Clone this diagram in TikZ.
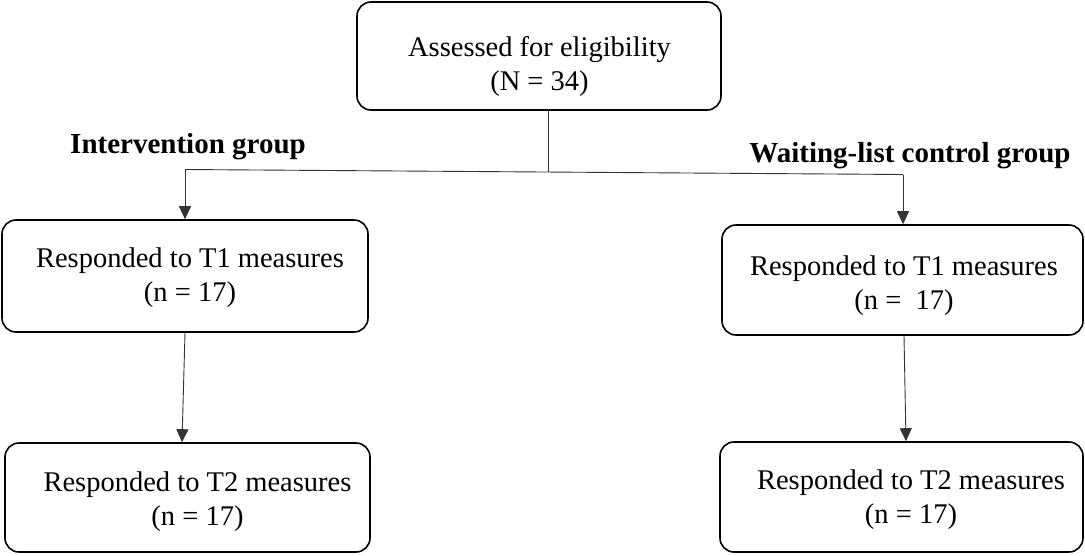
\documentclass[tikz,border=0pt]{standalone}
\usepackage{fontspec}
\setmainfont{Liberation Serif}
\usetikzlibrary{arrows.meta}
\begin{document}
\begin{tikzpicture}[x=1pt,y=-1pt,
  box/.style={draw=black, line width=1.6pt, rounded corners=14pt, inner sep=0pt},
  txt/.style={align=center, inner sep=0pt, font=\fontsize{28.5}{34}\selectfont},
  grp/.style={inner sep=0pt, anchor=base, font=\fontsize{29}{34}\selectfont\bfseries},
  link/.style={draw=black!80, line width=0.9pt},
  arr/.style={link, -{Triangle[length=13pt,width=12pt]}}]
  \useasboundingbox (0,0) rectangle (1085,555);

  % boxes
  \node[box, minimum width=364pt, minimum height=108pt] (top) at (539,56) {};
  \node[box, minimum width=366pt, minimum height=112pt] (t1l) at (185,276) {};
  \node[box, minimum width=365pt, minimum height=109pt] (t2l) at (187.5,497.5) {};
  \node[box, minimum width=361pt, minimum height=110pt] (t1r) at (902.5,280) {};
  \node[box, minimum width=363pt, minimum height=110pt] (t2r) at (901.5,497) {};

  % box texts
  \node[txt] (toptxt) at (539.5,66.5) {Assessed for eligibility\\(N = 34)};
  \node[txt] (t1ltxt) at (190,278) {Responded to T1 measures\\(n = 17)};
  \node[txt] (t2ltxt) at (197.5,501.5) {Responded to T2 measures\\(n = 17)};
  \node[txt] (t1rtxt) at (904,286) {Responded to T1 measures\\(n = \ 17)};
  \node[txt] (t2rtxt) at (911,499.5) {Responded to T2 measures\\(n = 17)};

  % group labels
  \node[grp] (lgrp) at (188,153) {Intervention group};
  \node[grp] (rgrp) at (910,162) {Waiting-list control group};

  % split into the two groups
  \coordinate (split) at (548,172);
  \coordinate (lc) at (185,169.5);
  \coordinate (rc) at (903,174.5);
  \draw[link] (top.south -| split) -- (split);
  \draw[link] (lc) -- (rc);
  \draw[arr] (lc) -- (t1l.north -| lc);
  \draw[arr] (rc) -- (t1r.north -| rc);

  % T1 to T2
  \draw[arr] (t1l.south) -- (t2l.north -| 182,0);
  \draw[arr] (t1r.south -| 904,0) -- (t2r.north -| 906,0);
\end{tikzpicture}
\end{document}
